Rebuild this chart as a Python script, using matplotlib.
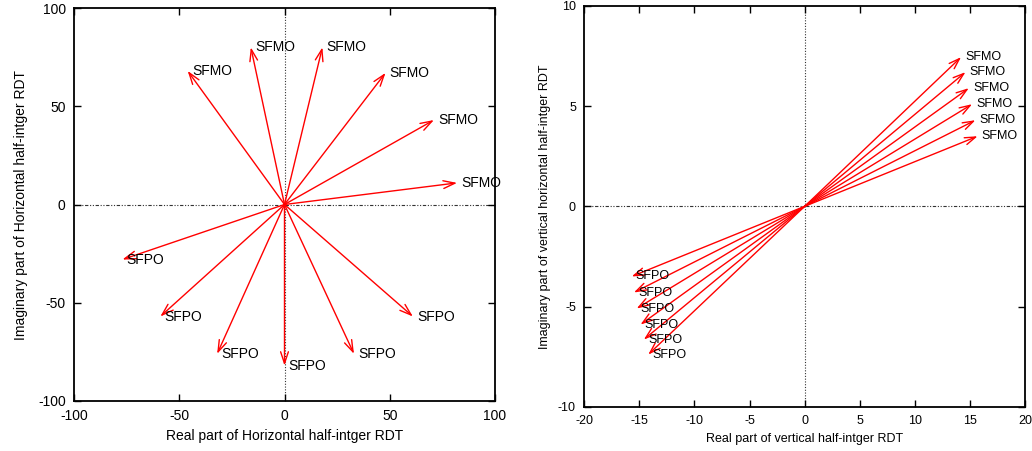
import matplotlib
matplotlib.use("Agg")
import matplotlib.pyplot as plt

plt.rcParams['font.family'] = ['Liberation Sans', 'DejaVu Sans']
plt.rcParams['axes.unicode_minus'] = False

# Horizontal half-integer RDT (left panel)
hor_sfmo_re = [82, 71, 48, 18, -16, -46]
hor_sfmo_im = [11, 43, 67, 80, 80, 68]
hor_sfpo_re = [-77, -59, -32, 0, 33, 61]
hor_sfpo_im = [-28, -57, -76, -82, -76, -57]

# Vertical half-integer RDT (right panel)
ver_sfmo_re = [14.2, 14.6, 14.9, 15.2, 15.5, 15.7]
ver_sfmo_im = [7.45, 6.7, 5.9, 5.1, 4.3, 3.5]
ver_sfpo_re = [-15.7, -15.5, -15.25, -14.9, -14.6, -14.2]
ver_sfpo_im = [-3.5, -4.3, -5.1, -5.9, -6.65, -7.4]

left_ticks = [-100, -50, 0, 50, 100]
right_xticks = [-20, -15, -10, -5, 0, 5, 10, 15, 20]
right_yticks = [-10, -5, 0, 5, 10]

fig = plt.figure(figsize=(10.32, 4.51), dpi=100)
W, H = 1032, 451
ax1 = fig.add_axes([74 / W, 1 - 401 / H, (495 - 74) / W, (401 - 8) / H])
ax2 = fig.add_axes([584.3 / W, 1 - 406.7 / H, (1025 - 584.3) / W, (406.7 - 6) / H])


def draw(ax, mo_re, mo_im, po_re, po_im, fs, ms):
    ax.axhline(0, color='#333333', lw=0.8, dashes=(3, 1.5, 1, 1.5, 1, 1.5), zorder=1)
    ax.axvline(0, color='#333333', lw=0.8, dashes=(1, 1.5), zorder=1)
    for re_, im_, lab in [(mo_re, mo_im, 'SFMO'), (po_re, po_im, 'SFPO')]:
        for x, y in zip(re_, im_):
            ax.annotate('', xy=(x, y), xytext=(0, 0),
                        arrowprops=dict(arrowstyle='->,head_length=0.6,head_width=0.2',
                                        color='red', lw=1.0, shrinkA=0, shrinkB=0,
                                        mutation_scale=ms), zorder=3)
            ax.annotate(lab, xy=(x, y), xytext=(3, 0), textcoords='offset points',
                        ha='left', va='center', fontsize=fs, color='black', zorder=4)
    for s in ax.spines.values():
        s.set_linewidth(1.3)
    ax.tick_params(direction='in', top=True, right=True, length=5, width=1.0,
                   labelsize=fs, pad=6)


draw(ax1, hor_sfmo_re, hor_sfmo_im, hor_sfpo_re, hor_sfpo_im, 10, 14)
ax1.set_xlim(-100, 100)
ax1.set_ylim(-100, 100)
ax1.set_xticks(left_ticks)
ax1.set_yticks(left_ticks)
ax1.set_xlabel('Real part of Horizontal half-intger RDT', fontsize=10, labelpad=4)
ax1.set_ylabel('Imaginary part of Horizontal half-intger RDT', fontsize=10, labelpad=7)

draw(ax2, ver_sfmo_re, ver_sfmo_im, ver_sfpo_re, ver_sfpo_im, 9, 13)
ax2.set_xlim(-20, 20)
ax2.set_ylim(-10, 10)
ax2.set_xticks(right_xticks)
ax2.set_yticks(right_yticks)
ax2.set_xlabel('Real part of vertical half-intger RDT', fontsize=9, labelpad=4)
ax2.set_ylabel('Imaginary part of vertical horizontal half-intger RDT', fontsize=9, labelpad=5)

fig.savefig('out.png', dpi=100)
